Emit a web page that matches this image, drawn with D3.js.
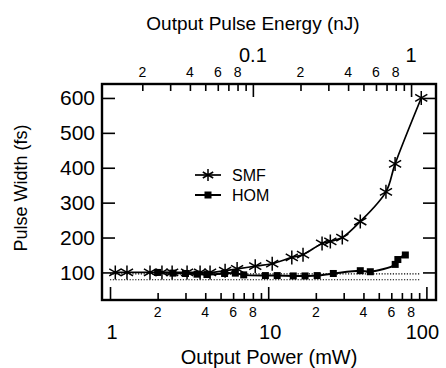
<!DOCTYPE html>
<html>
<head>
<meta charset="utf-8">
<script src="https://cdn.jsdelivr.net/npm/d3@7"></script>
<style>
  body { margin: 0; background: #fff; }
  svg { font-family: "Liberation Sans", Arial, sans-serif; }
</style>
</head>
<body>
<svg width="446" height="368"></svg>
<script>
// SMF data (power in mW, pulse width in fs)
const smfPower = [1.08, 1.28, 1.79, 2.13, 2.47, 3.07, 3.71, 4.29, 5.34, 6.36, 8.28, 10.6, 14.1, 16.6, 21.9, 24.7, 29.4, 38.2, 55.5, 63.4, 92.8];
const smfWidth = [100, 100, 100, 100, 100, 100, 100, 100, 105, 110, 118, 125, 143, 151, 183, 189, 200, 246, 331, 411, 600];

// HOM data
const homPower = [2.0, 2.5, 3.0, 3.55, 4.1, 5.3, 6.2, 7.0, 9.6, 11.4, 14.4, 17.1, 20.4, 25.8, 38.2, 44.2, 63.5, 66, 73.6];
const homWidth = [100, 98, 97, 95, 94, 97, 98, 93, 91, 91, 90, 90, 91, 97, 105, 102, 123, 137, 150];

// dotted reference levels (fs)
const refLevels = [96, 79];

const yTicks = [100, 200, 300, 400, 500, 600];
const xMajor = [1, 10, 100];
const xMinor = [2, 3, 4, 5, 6, 7, 8, 9, 20, 30, 40, 50, 60, 70, 80, 90];
const xMinorLabels = [2, 4, 6, 8, 20, 40, 60, 80];
const eMajor = [0.1, 1];
const eMinor = [0.02, 0.03, 0.04, 0.05, 0.06, 0.07, 0.08, 0.09, 0.2, 0.3, 0.4, 0.5, 0.6, 0.7, 0.8, 0.9];
const eMinorLabels = [0.02, 0.04, 0.06, 0.08, 0.2, 0.4, 0.6, 0.8];
const repRate = 80; // MHz, energy = power / repRate

// chart size
const marginLeft = 102, marginTop = 84;
const width = 334, height = 216;
const font = '"Liberation Sans", Arial, sans-serif';

const svg = d3.select('svg');
const chart = svg.append('g').attr('transform', `translate(${marginLeft} ${marginTop})`);

const xScale = d3.scaleLog().domain([0.89, 115]).range([0, width]);
const eScale = d3.scaleLog().domain([0.89 / repRate, 115 / repRate]).range([0, width]);
const yScale = d3.scaleLinear().domain([21, 640]).range([height, 0]);

const fmt = d3.format('~g');
// leading digit only, for the minor labels
const digit = v => String(Math.round(v / Math.pow(10, Math.floor(Math.log10(v) + 1e-9))));

// bottom axis
const bottom = chart.append('g').attr('transform', `translate(0, ${height})`);
bottom.call(d3.axisBottom(xScale).tickValues(xMinor).tickSizeInner(-7).tickSizeOuter(0).tickFormat(''));
bottom.append('g').call(d3.axisBottom(xScale).tickValues(xMajor).tickSizeInner(-13).tickSizeOuter(0).tickFormat(''));
bottom.selectAll('.domain').remove();
bottom.selectAll('.tick line').attr('stroke', '#000').attr('stroke-width', 1.6);

bottom.selectAll('.minorlab').data(xMinorLabels).enter().append('text')
  .attr('x', d => xScale(d)).attr('y', 17)
  .attr('text-anchor', 'middle').attr('font-size', 14)
  .attr('fill', '#000').attr('font-family', font)
  .text(d => digit(d));
bottom.selectAll('.majorlab').data(xMajor).enter().append('text')
  .attr('x', d => xScale(d) + (d === 100 ? -4 : 2)).attr('y', 39)
  .attr('text-anchor', 'middle').attr('font-size', 20)
  .attr('fill', '#000').attr('font-family', font)
  .text(d => fmt(d));

// top axis
const topAx = chart.append('g');
topAx.call(d3.axisTop(eScale).tickValues(eMinor).tickSizeInner(-7).tickSizeOuter(0).tickFormat(''));
topAx.append('g').call(d3.axisTop(eScale).tickValues(eMajor).tickSizeInner(-13).tickSizeOuter(0).tickFormat(''));
topAx.selectAll('.domain').remove();
topAx.selectAll('.tick line').attr('stroke', '#000').attr('stroke-width', 1.6);

topAx.selectAll('.minorlab').data(eMinorLabels).enter().append('text')
  .attr('x', d => eScale(d)).attr('y', -7)
  .attr('text-anchor', 'middle').attr('font-size', 14)
  .attr('fill', '#000').attr('font-family', font)
  .text(d => digit(d));
topAx.selectAll('.majorlab').data(eMajor).enter().append('text')
  .attr('x', d => eScale(d)).attr('y', -22)
  .attr('text-anchor', 'middle').attr('font-size', 20)
  .attr('fill', '#000').attr('font-family', font)
  .text(d => fmt(d));

// left axis
const leftAx = chart.append('g');
leftAx.call(d3.axisLeft(yScale).tickValues(yTicks).tickSizeInner(-13).tickSizeOuter(0).tickPadding(7).tickFormat(d3.format('d')));
leftAx.selectAll('.domain').remove();
leftAx.selectAll('.tick line').attr('stroke', '#000').attr('stroke-width', 1.6);
leftAx.selectAll('.tick text').attr('font-size', 21).attr('fill', '#000').attr('font-family', font);

// right axis
const rightAx = chart.append('g').attr('transform', `translate(${width}, 0)`);
rightAx.call(d3.axisRight(yScale).tickValues(yTicks).tickSizeInner(-13).tickSizeOuter(0).tickFormat(''));
rightAx.selectAll('.domain').remove();
rightAx.selectAll('.tick line').attr('stroke', '#000').attr('stroke-width', 1.6);

// frame
chart.append('rect')
  .attr('width', width).attr('height', height)
  .attr('fill', 'none').attr('stroke', '#000').attr('stroke-width', 2.4);

// dotted lines
chart.selectAll('.ref').data(refLevels).enter().append('line')
  .attr('x1', xScale(1)).attr('x2', xScale(91))
  .attr('y1', d => yScale(d)).attr('y2', d => yScale(d))
  .attr('stroke', '#000').attr('stroke-width', 1.2).attr('stroke-dasharray', '1.2,1.6');

const smf = smfPower.map((p, i) => ({p, w: smfWidth[i]}));
const hom = homPower.map((p, i) => ({p, w: homWidth[i]}));

const line = d3.line()
  .x(d => xScale(d.p)).y(d => yScale(d.w))
  .curve(d3.curveCatmullRom.alpha(0.5));

chart.append('path').datum(smf)
  .attr('d', line).attr('fill', 'none').attr('stroke', '#000').attr('stroke-width', 1.7);
chart.append('path').datum(hom)
  .attr('d', line).attr('fill', 'none').attr('stroke', '#000').attr('stroke-width', 2);

// asterisk marker
const star = r => {
  let s = '';
  for (let k = 0; k < 3; k++) {
    const a = Math.PI / 2 + k * Math.PI / 3;
    const dx = r * Math.cos(a), dy = r * Math.sin(a);
    s += `M${-dx},${-dy}L${dx},${dy}`;
  }
  return s;
};

chart.selectAll('.smf').data(smf).enter().append('path')
  .attr('transform', d => `translate(${xScale(d.p)},${yScale(d.w)})`)
  .attr('d', star(7)).attr('stroke', '#000').attr('stroke-width', 1.5).attr('fill', 'none');

chart.selectAll('.hom').data(hom).enter().append('rect')
  .attr('x', d => xScale(d.p) - 3.5).attr('y', d => yScale(d.w) - 3.5)
  .attr('width', 7).attr('height', 7).attr('fill', '#000');

// legend
const legend = svg.append('g');
legend.append('line').attr('x1', 195).attr('x2', 221).attr('y1', 175).attr('y2', 175)
  .attr('stroke', '#000').attr('stroke-width', 1.7);
legend.append('path').attr('transform', 'translate(208,175)').attr('d', star(6))
  .attr('stroke', '#000').attr('stroke-width', 1.5);
legend.append('text').attr('x', 232).attr('y', 181).attr('font-size', 16).text('SMF');
legend.append('line').attr('x1', 195).attr('x2', 221).attr('y1', 195).attr('y2', 195)
  .attr('stroke', '#000').attr('stroke-width', 2);
legend.append('rect').attr('x', 204.5).attr('y', 191.5).attr('width', 7).attr('height', 7);
legend.append('text').attr('x', 232).attr('y', 201).attr('font-size', 16).text('HOM');

// titles
svg.append('text').attr('x', 253).attr('y', 30)
  .attr('text-anchor', 'middle').attr('font-size', 19)
  .text('Output Pulse Energy (nJ)');
svg.append('text').attr('x', 269).attr('y', 364)
  .attr('text-anchor', 'middle').attr('font-size', 20)
  .text('Output Power (mW)');
svg.append('text')
  .attr('transform', 'translate(27, 188) rotate(-90)')
  .attr('text-anchor', 'middle').attr('font-size', 18)
  .text('Pulse Width (fs)');
</script>
</body>
</html>
